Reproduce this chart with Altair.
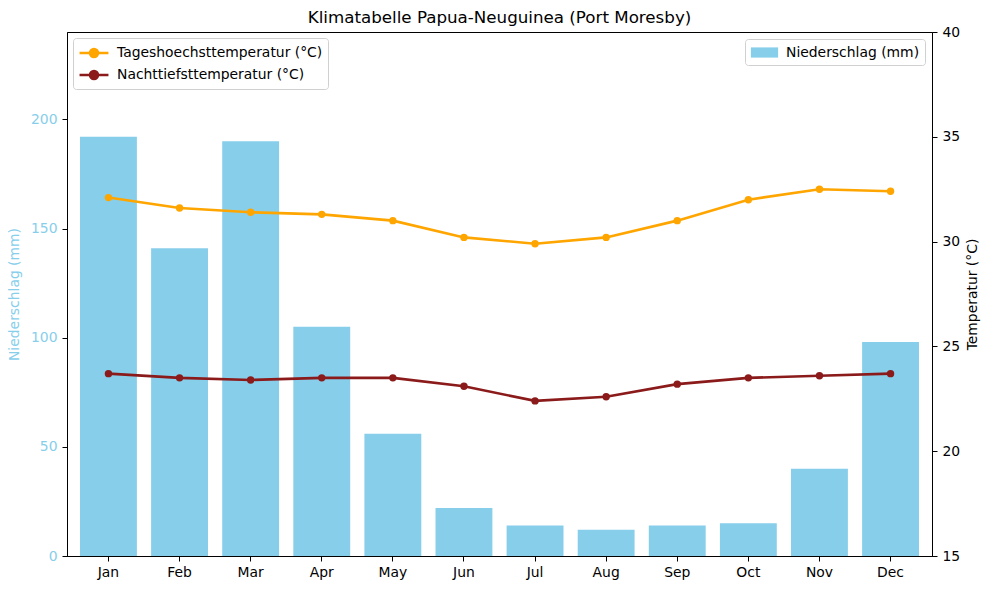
import altair as alt
import pandas as pd

# Monthly climate values for Port Moresby
months = ["Jan", "Feb", "Mar", "Apr", "May", "Jun", "Jul", "Aug", "Sep", "Oct", "Nov", "Dec"]
precip = [192, 141, 190, 105, 56, 22, 14, 12, 14, 15, 40, 98]
t_max = [32.1, 31.6, 31.4, 31.3, 31.0, 30.2, 29.9, 30.2, 31.0, 32.0, 32.5, 32.4]
t_min = [23.7, 23.5, 23.4, 23.5, 23.5, 23.1, 22.4, 22.6, 23.2, 23.5, 23.6, 23.7]

rain_label = "Niederschlag (mm)"
max_label = "Tageshoechsttemperatur (°C)"
min_label = "Nachttiefsttemperatur (°C)"

rain_df = pd.DataFrame({"Monat": months, "Wert": precip, "Reihe": rain_label})
temp_df = pd.DataFrame({
    "Monat": months * 2,
    "Temp": t_max + t_min,
    "Reihe": [max_label] * 12 + [min_label] * 12,
})

FONT = "DejaVu Sans"
FS = 13.9
SKY = "#87CEEB"

x_enc = alt.X(
    "Monat:N",
    sort=months,
    scale=alt.Scale(paddingInner=0.2, paddingOuter=0.183),
    axis=alt.Axis(title=None, labelAngle=0, labelColor="black", labelFontSize=FS,
                  tickColor="black", tickSize=5, labelPadding=4, domainColor="black"),
)

# legend symbols: path units are scaled by sqrt(symbolSize)/2 = 8.5 px
SYM_SIZE = 289
line_symbol = ("M-1.7,0L1.7,0"
               "M0.48,0A0.48,0.48,0,1,1,-0.48,0A0.48,0.48,0,1,1,0.48,0"
               "M0.32,0A0.32,0.32,0,1,1,-0.32,0A0.32,0.32,0,1,1,0.32,0"
               "M0.16,0A0.16,0.16,0,1,1,-0.16,0A0.16,0.16,0,1,1,0.16,0")
rect_symbol = "M-1.6,-0.6L1.6,-0.6L1.6,0.6L-1.6,0.6Z"

legend_box = dict(title=None, labelFontSize=FS, labelLimit=0, symbolSize=SYM_SIZE,
                  strokeColor="#d0d0d0", fillColor="white", cornerRadius=3,
                  padding=5, symbolOffset=6, labelOffset=13, rowPadding=3)

bars = alt.Chart(rain_df).mark_bar(color=SKY).encode(
    x=x_enc,
    y=alt.Y(
        "Wert:Q",
        scale=alt.Scale(domain=[0, 240], nice=False),
        axis=alt.Axis(title="Niederschlag (mm)", values=[0, 50, 100, 150, 200],
                      labelColor=SKY, titleColor=SKY, labelFontSize=FS, titleFontSize=FS,
                      titleFontWeight="normal", tickColor="black", tickSize=5,
                      labelPadding=5, titlePadding=9, domainColor="black", grid=False),
    ),
    color=alt.Color(
        "Reihe:N",
        scale=alt.Scale(domain=[rain_label], range=[SKY]),
        legend=alt.Legend(orient="top-right", offset=7, symbolType=rect_symbol,
                          symbolStrokeWidth=0, **legend_box),
    ),
)

temp_y = alt.Y(
    "Temp:Q",
    scale=alt.Scale(domain=[15, 40], nice=False),
    axis=alt.Axis(title="Temperatur (°C)", orient="right", values=[15, 20, 25, 30, 35, 40],
                  labelColor="black", titleColor="black", labelFontSize=FS, titleFontSize=FS,
                  titleFontWeight="normal", tickColor="black", tickSize=5, labelPadding=5,
                  titlePadding=6, titleAngle=270, titleBaseline="top",
                  domainColor="black", grid=False),
)

temp_color = alt.Color(
    "Reihe:N",
    scale=alt.Scale(domain=[max_label, min_label], range=["#FFA500", "#8B1A1A"]),
    legend=alt.Legend(orient="top-left", offset=6, symbolType=line_symbol,
                      symbolStrokeWidth=2.4, **legend_box),
)

lines = alt.Chart(temp_df).mark_line(
    strokeWidth=2.6,
    point=alt.OverlayMarkDef(filled=True, size=55, opacity=1),
).encode(x=x_enc, y=temp_y, color=temp_color)

chart = alt.layer(bars, lines).resolve_scale(
    y="independent", color="independent"
).properties(
    width=865,
    height=524,
    title=alt.Title("Klimatabelle Papua-Neuguinea (Port Moresby)", fontSize=16.7,
                    fontWeight="normal", font=FONT, color="black", offset=-2),
    autosize=alt.AutoSizeParams(type="none"),
    padding={"left": 67, "top": 32, "right": 57, "bottom": 34},
).configure(
    font=FONT,
).configure_view(
    stroke="black", strokeWidth=1,
).configure_axis(
    labelFont=FONT, titleFont=FONT,
).configure_legend(
    labelFont=FONT,
)

chart.save("out.html", embed_options={"renderer": "svg", "actions": False})
